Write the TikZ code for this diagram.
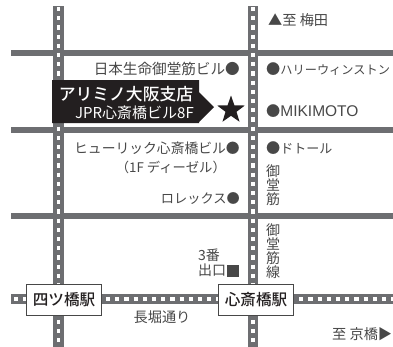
\documentclass[tikz,border=0pt]{standalone}
\usepackage{fontspec}
\setmainfont{Noto Sans CJK JP}
\newfontfamily\latinface{Liberation Sans}
\newfontfamily\mediumface{Noto Sans CJK JP Medium}
\usetikzlibrary{shapes.geometric}
\definecolor{roadgrey}{HTML}{6D6E71}
\definecolor{inkgrey}{HTML}{484848}
\definecolor{labelblack}{HTML}{231F20}
\newcommand{\fsz}[1]{\fontsize{#1bp}{16bp}\selectfont}
\tikzset{
  x=1bp,y=-1bp,
  road/.style={line width=6.5bp,roadgrey},
  track/.style={line width=10.8bp,roadgrey},
  sleepers/.style={line width=3.4bp,white,dash pattern=on 4.2bp off 5bp},
  maptext/.style={inner sep=0pt,text=inkgrey,font=\fontsize{14.2bp}{16bp}\selectfont},
  lefttext/.style={maptext,anchor=east},
  righttext/.style={maptext,anchor=west},
  vtext/.style={maptext,align=center,font=\fontsize{14bp}{14bp}\selectfont,anchor=north},
  station/.style={draw=inkgrey,fill=white,line width=0.6bp,minimum width=75.5bp,minimum height=31bp,inner sep=0pt,text=labelblack,font=\mediumface\fontsize{15.6bp}{17bp}\selectfont}
}
\begin{document}
\begin{tikzpicture}
\useasboundingbox (0,0) rectangle (393,347);
\fill[white] (0,0) rectangle (393,347);
% roads
\draw[road] (11,53) -- (393,53);
\draw[road] (11,130) -- (393,130);
\draw[road] (11,216) -- (393,216);
\draw[track] (58.5,6) -- (58.5,347);
\draw[track] (253,6) -- (253,347);
\draw[track] (11,299) -- (393,299);
\draw[sleepers] (58.5,7) -- (58.5,347);
\draw[sleepers] (253,7) -- (253,347);
\draw[sleepers] (14,299) -- (393,299);
% callout
\fill[labelblack] (52,80) -- (199,80) -- (199,92) -- (214,107) -- (199,122) -- (199,123) -- (52,123) -- cycle;
\node[inner sep=0pt,text=white,font=\mediumface\fontsize{16.8bp}{18bp}\selectfont] (title) at (126,94) {アリミノ大阪支店};
\node[inner sep=0pt,text=white,font=\fontsize{15bp}{16bp}\selectfont,anchor=east] (sub) at (194,113) {JPR心斎橋ビル8F};
\node[star,star points=5,star point ratio=2.5,fill=labelblack,inner sep=0pt,minimum size=29bp] (hq) at (231,110) {};
% labels
\node[righttext] (umeda) at (268,20) {▲至 梅田};
\node[lefttext,font=\fsz{14.6}] (nihon) at (240,69) {日本生命御堂筋ビル●};
\node[righttext] (harry) at (266,69) {●{\fsz{12.2}ハリーウィンストン}};
\node[righttext] (miki) at (266,111) {●{\latinface\fsz{15.5}MIKIMOTO}};
\node[lefttext,font=\fsz{13.8}] (hew) at (240,148) {ヒューリック心斎橋ビル●};
\node[lefttext,font=\fsz{13.3}] (diesel) at (226,167) {（1F ディーゼル）};
\node[righttext] (dot) at (266,148) {●{\fsz{13}ドトール}};
\node[lefttext,font=\fsz{13.2}] (rolex) at (240,199) {ロレックス●};
\node[vtext] (mido1) at (273,165) {御\\堂\\筋};
\node[vtext] (mido2) at (273,224) {御\\堂\\筋\\線};
\node[maptext,align=left,anchor=north west,font=\fontsize{14bp}{15bp}\selectfont] (exit) at (198,249) {3番\\出口};
\node[fill=inkgrey,inner sep=0pt,minimum size=12bp] (exitmark) at (233,271) {};
\node[maptext] (naga) at (162,317) {長堀通り};
\node[righttext] (kyo) at (332,334) {至 京橋▶};
% stations
\node[station] (yotsu) at (64,299.5) {四ツ橋駅};
\node[station] (shin) at (256,299.5) {心斎橋駅};
\end{tikzpicture}
\end{document}
